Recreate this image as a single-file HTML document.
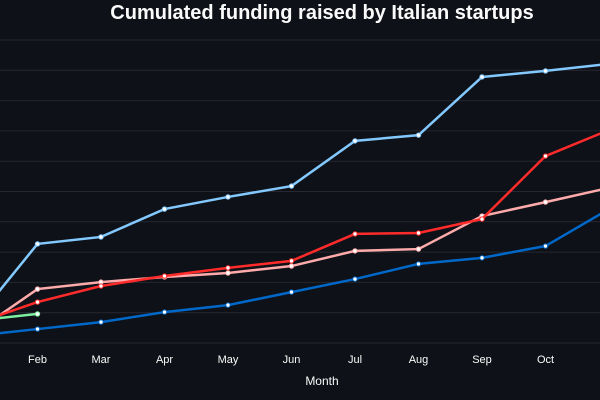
<!DOCTYPE html>
<html><head><meta charset="utf-8"><style>
html,body{margin:0;padding:0;background:#0e1117;width:600px;height:400px;overflow:hidden}
svg{display:block;font-family:"Liberation Sans",sans-serif}
</style></head><body>
<svg id="chart" width="600" height="400">
<text x="322" y="19" text-anchor="middle" fill="#fafafa" font-size="20" font-weight="bold">Cumulated funding raised by Italian startups</text>
<g id="grid"></g><g id="xticks"></g><g id="series"></g>
<text x="322" y="385" text-anchor="middle" fill="#fafafa" font-size="12">Month</text>
</svg>
<script>
const months = ["Jan","Feb","Mar","Apr","May","Jun","Jul","Aug","Sep","Oct","Nov"];
const gridValues = [0,1,2,3,4,5,6,7,8,9,10];
const seriesLightBlue = [0.69,3.27,3.50,4.42,4.82,5.18,6.67,6.86,8.78,8.98,9.21];
const seriesRed = [0.63,1.35,1.88,2.21,2.48,2.71,3.60,3.63,4.09,6.17,7.03];
const seriesPink = [0.33,1.78,2.01,2.18,2.31,2.54,3.04,3.10,4.19,4.65,5.12];
const seriesBlue = [0.23,0.46,0.69,1.02,1.25,1.68,2.11,2.61,2.81,3.20,4.42];
const seriesGreen = [0.73,0.96];
const NS="http://www.w3.org/2000/svg";
function x(i){return -26+i*63.5;}
function y(v){return 343-v*30.3;}
const grid=document.getElementById('grid');
gridValues.forEach(v=>{
 const l=document.createElementNS(NS,'line');
 l.setAttribute('x1',0);l.setAttribute('x2',600);l.setAttribute('y1',y(v));l.setAttribute('y2',y(v));
 l.setAttribute('stroke','#262730');l.setAttribute('stroke-width',1);
 
 
 grid.appendChild(l);
});
const xt=document.getElementById('xticks');
months.forEach((m,i)=>{
 if(x(i)<0||x(i)>590) return;
 const t=document.createElementNS(NS,'text');
 t.setAttribute('x',x(i));t.setAttribute('y',363);t.setAttribute('text-anchor','middle');
 t.setAttribute('fill','#fafafa');t.setAttribute('font-size','11');t.textContent=m;
 
 
 xt.appendChild(t);
});
const sg=document.getElementById('series');
[[seriesLightBlue,'#83c9ff','line-light-blue'],[seriesPink,'#ffabab','line-pink'],[seriesRed,'#ff2b2b','line-red'],[seriesBlue,'#0068c9','line-blue'],[seriesGreen,'#7defa1','line-green']].forEach(([d,c,n])=>{
 const p=document.createElementNS(NS,'polyline');
 p.setAttribute('points',d.map((v,i)=>x(i)+','+y(v)).join(' '));
 p.setAttribute('fill','none');p.setAttribute('stroke',c);p.setAttribute('stroke-width',2.5);
 
 
 sg.appendChild(p);
 d.forEach((v,i)=>{
  const ci=document.createElementNS(NS,'circle');
  ci.setAttribute('cx',x(i));ci.setAttribute('cy',y(v));ci.setAttribute('r',2.2);
  ci.setAttribute('fill','#fff');ci.setAttribute('stroke',c);ci.setAttribute('stroke-width',1);
  
  
  sg.appendChild(ci);
 });
});
</script>
</body></html>
